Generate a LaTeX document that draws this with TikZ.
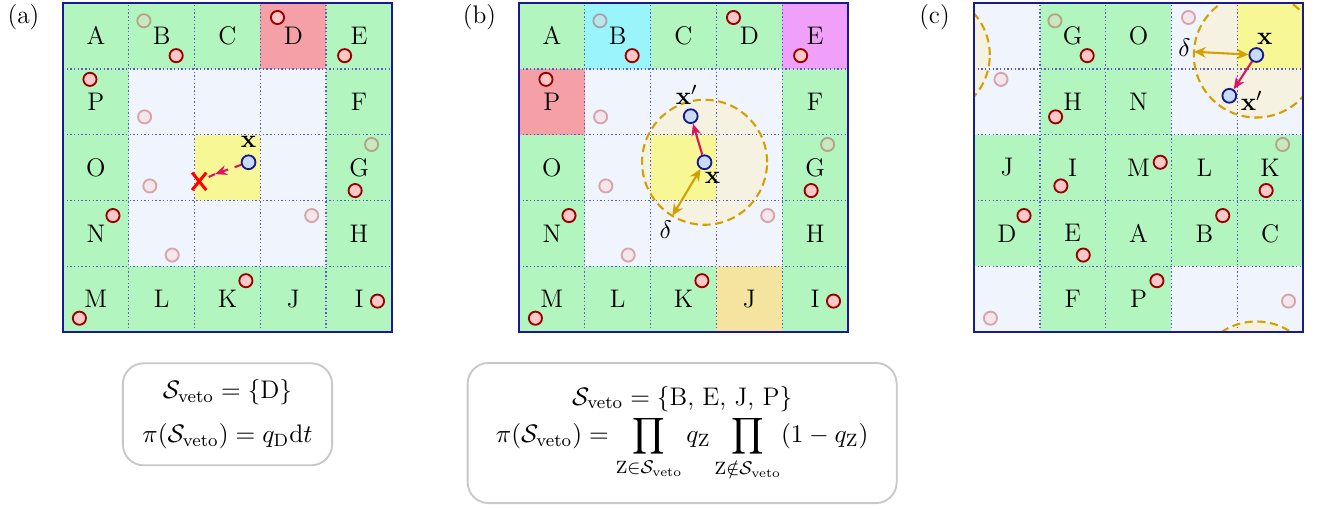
\documentclass[tikz,border=0pt]{standalone}
\usepackage{amsmath}
\usepackage{amssymb}
\usetikzlibrary{arrows.meta,positioning,calc,shapes.misc}
\definecolor{navy}{HTML}{1A1A8C}
\definecolor{cellg}{HTML}{B2F5BE}
\definecolor{cellbg}{HTML}{F0F4FD}
\definecolor{cellred}{HTML}{F4A0A6}
\definecolor{cellcyan}{HTML}{9AF4FC}
\definecolor{cellpink}{HTML}{F0A0F8}
\definecolor{celltan}{HTML}{F5E4A0}
\definecolor{cellyel}{HTML}{F7F796}
\definecolor{halo}{HTML}{F5F2E1}
\definecolor{gold}{HTML}{D4A000}
\definecolor{crimson}{HTML}{DC1460}
\definecolor{partfill}{HTML}{FFC8C8}
\definecolor{partdraw}{HTML}{990000}
\definecolor{walkfill}{HTML}{C8DCF8}
\definecolor{gridblue}{HTML}{5A5AC8}
\definecolor{boxgray}{HTML}{C8C8C8}
\tikzset{
  letter/.style={font=\fontsize{11}{13}\selectfont},
  part/.style={circle,draw=partdraw,fill=partfill,line width=0.8pt,minimum size=0.2cm,inner sep=0pt},
  ghost/.style={part,opacity=0.3},
  walker/.style={circle,draw=navy,fill=walkfill,line width=0.8pt,minimum size=0.21cm,inner sep=0pt},
  tag/.style={font=\fontsize{11}{13}\selectfont,inner sep=1pt},
  move/.style={-{Stealth[length=1.8mm,width=1.5mm]},line width=0.9pt,crimson},
  reach/.style={{Stealth[length=1.8mm,width=1.6mm]}-{Stealth[length=1.8mm,width=1.6mm]},line width=0.9pt,gold},
  rim/.style={gold,line width=0.9pt,dash pattern=on 3.5pt off 2pt},
  cellgrid/.style={gridblue,densely dotted,line width=0.6pt},
  frame/.style={navy,line width=0.9pt},
  vetomark/.style={cross out,draw=red,line width=1.3pt,minimum width=0.17cm,minimum height=0.22cm,inner sep=0pt},
  eqbox/.style={rectangle,rounded corners=9pt,draw=boxgray,line width=0.8pt,fill=white,align=center,font=\fontsize{11}{13}\selectfont},
  panel/.style={font=\fontsize{11}{13}\selectfont}
}

\begin{document}
\begin{tikzpicture}
  \useasboundingbox (-0.957,-2.675) rectangle (19.164,5.046);

  % (a)
  \begin{scope}
    \fill[cellbg] (0,0) rectangle (5,5);
    \foreach \cx/\cy/\cf in {0/4/cellg,1/4/cellg,2/4/cellg,3/4/cellred,4/4/cellg,0/3/cellg,4/3/cellg,0/2/cellg,4/2/cellg,
                             0/1/cellg,4/1/cellg,0/0/cellg,1/0/cellg,2/0/cellg,3/0/cellg,4/0/cellg,2/2/cellyel}
      \fill[\cf] (\cx,\cy) rectangle ++(1,1);
    \draw[cellgrid] (0,0) grid (5,5);
    \draw[frame] (0,0) rectangle (5,5);
    \node[panel] (a-tag) at (-0.6,4.79) {(a)};
    \foreach \cx/\cy/\t in {0/4/A,1/4/B,2/4/C,3/4/D,4/4/E,0/3/P,4/3/F,0/2/O,4/2/G,0/1/N,4/1/H,0/0/M,1/0/L,2/0/K,3/0/J,4/0/I}
      \node[letter] (a-\t) at (\cx+0.5,\cy+0.5) {\t};
    \foreach \px/\py [count=\i] in {1.23/4.73,1.24/3.27,4.69/2.85,1.32/2.22,3.78/1.77,1.66/1.17}
      \node[ghost] (a-g\i) at (\px,\py) {};
    \foreach \px/\py [count=\i] in {1.72/4.20,3.26/4.78,4.28/4.20,0.41/3.84,4.44/2.15,0.76/1.77,2.78/0.78,0.25/0.21,4.78/0.47}
      \node[part] (a-p\i) at (\px,\py) {};
    \node[walker] (a-x) at (2.82,2.58) {};
    \node[tag,above=0.06cm of a-x] (a-xl) {$\mathbf{x}$};
    \node[vetomark] (a-veto) at (2.07,2.29) {};
    \coordinate (a-tip) at (2.31,2.40);
    \draw[move,dashed] (a-x) -- (a-tip);
    \draw[crimson,line width=0.9pt,dashed] (a-tip) -- (a-veto);
  \end{scope}
  \node[eqbox,minimum width=3.18cm,minimum height=1.55cm] (a-box) at (2.5,-1.25)
    {$\mathcal{S}_{\text{veto}}=\{\text{D}\}$\\[6pt] $\pi(\mathcal{S}_{\text{veto}})=q_{\text{D}}\mathrm{d}t$};

  % (b)
  \begin{scope}[shift={(6.93,0)}]
    \fill[cellbg] (0,0) rectangle (5,5);
    \fill[halo] (2.82,2.58) circle (0.95);
    \foreach \cx/\cy/\cf in {0/4/cellg,1/4/cellcyan,2/4/cellg,3/4/cellg,4/4/cellpink,0/3/cellred,4/3/cellg,0/2/cellg,4/2/cellg,
                             0/1/cellg,4/1/cellg,0/0/cellg,1/0/cellg,2/0/cellg,3/0/celltan,4/0/cellg,2/2/cellyel}
      \fill[\cf] (\cx,\cy) rectangle ++(1,1);
    \draw[cellgrid] (0,0) grid (5,5);
    \draw[rim] (2.82,2.58) circle (0.95);
    \draw[frame] (0,0) rectangle (5,5);
    \node[panel] (b-tag) at (-0.6,4.79) {(b)};
    \foreach \cx/\cy/\t in {0/4/A,1/4/B,2/4/C,3/4/D,4/4/E,0/3/P,4/3/F,0/2/O,4/2/G,0/1/N,4/1/H,0/0/M,1/0/L,2/0/K,3/0/J,4/0/I}
      \node[letter] (b-\t) at (\cx+0.5,\cy+0.5) {\t};
    \foreach \px/\py [count=\i] in {1.23/4.73,1.24/3.27,4.69/2.85,1.32/2.22,3.78/1.77,1.66/1.17}
      \node[ghost] (b-g\i) at (\px,\py) {};
    \foreach \px/\py [count=\i] in {1.72/4.20,3.26/4.78,4.28/4.20,0.41/3.84,4.44/2.15,0.76/1.77,2.78/0.78,0.25/0.21,4.78/0.47}
      \node[part] (b-p\i) at (\px,\py) {};
    \node[walker] (b-x) at (2.82,2.58) {};
    \node[walker] (b-xn) at (2.61,3.28) {};
    \node[tag] (b-xl) at (2.94,2.34) {$\mathbf{x}$};
    \node[tag] (b-xnl) at (2.55,3.60) {$\mathbf{x}'$};
    \coordinate (b-rim) at ($(b-x)+(239:0.95)$);
    \node[tag] (b-delta) at (2.23,1.56) {$\delta$};
    \draw[move] (b-x) -- (b-xn);
    \draw[reach] (b-x) -- (b-rim);
  \end{scope}
  \node[eqbox,minimum width=6.52cm,minimum height=2.13cm] (b-box) at (9.41,-1.535)
    {$\mathcal{S}_{\text{veto}}=\{\text{B, E, J, P}\}$\\[1pt]
     $\displaystyle\pi(\mathcal{S}_{\text{veto}})=\prod_{\text{Z}\in\mathcal{S}_{\text{veto}}}q_{\text{Z}}\prod_{\text{Z}\notin\mathcal{S}_{\text{veto}}}(1-q_{\text{Z}})$};

  % (c)
  \begin{scope}[shift={(13.845,0)}]
    \fill[cellbg] (0,0) rectangle (5,5);
    \begin{scope}
      \clip (0,0) rectangle (5,5);
      \foreach \dx/\dy in {0/0,-5/0,0/-5}
        \fill[halo] (4.29+\dx,4.21+\dy) circle (0.95);
    \end{scope}
    \foreach \cx/\cy/\cf in {1/4/cellg,2/4/cellg,1/3/cellg,2/3/cellg,0/2/cellg,1/2/cellg,2/2/cellg,3/2/cellg,4/2/cellg,
                             0/1/cellg,1/1/cellg,2/1/cellg,3/1/cellg,4/1/cellg,1/0/cellg,2/0/cellg,4/4/cellyel}
      \fill[\cf] (\cx,\cy) rectangle ++(1,1);
    \draw[cellgrid] (0,0) grid (5,5);
    \begin{scope}
      \clip (0,0) rectangle (5,5);
      \foreach \dx/\dy in {0/0,-5/0,0/-5}
        \draw[rim] (4.29+\dx,4.21+\dy) circle (0.95);
    \end{scope}
    \draw[frame] (0,0) rectangle (5,5);
    \node[panel] (c-tag) at (-0.6,4.79) {(c)};
    \foreach \cx/\cy/\t in {1/4/G,2/4/O,1/3/H,2/3/N,0/2/J,1/2/I,2/2/M,3/2/L,4/2/K,0/1/D,1/1/E,2/1/A,3/1/B,4/1/C,1/0/F,2/0/P}
      \node[letter] (c-\t) at (\cx+0.5,\cy+0.5) {\t};
    \foreach \px/\py [count=\i] in {1.23/4.73,3.26/4.78,0.41/3.84,4.69/2.85,0.25/0.21,4.78/0.47}
      \node[ghost] (c-g\i) at (\px,\py) {};
    \foreach \px/\py [count=\i] in {1.72/4.20,1.24/3.27,4.44/2.15,2.83/2.58,1.32/2.22,0.76/1.77,3.78/1.77,1.66/1.17,2.78/0.78}
      \node[part] (c-p\i) at (\px,\py) {};
    \node[walker] (c-x) at (4.29,4.21) {};
    \node[walker] (c-xn) at (3.88,3.59) {};
    \node[tag] (c-xl) at (4.42,4.46) {$\mathbf{x}$};
    \node[tag] (c-xnl) at (4.22,3.51) {$\mathbf{x}'$};
    \coordinate (c-rim) at ($(c-x)+(177:0.95)$);
    \node[tag] (c-delta) at (3.20,4.32) {$\delta$};
    \draw[move] (c-x) -- (c-xn);
    \draw[reach] (c-x) -- (c-rim);
  \end{scope}
\end{tikzpicture}
\end{document}
